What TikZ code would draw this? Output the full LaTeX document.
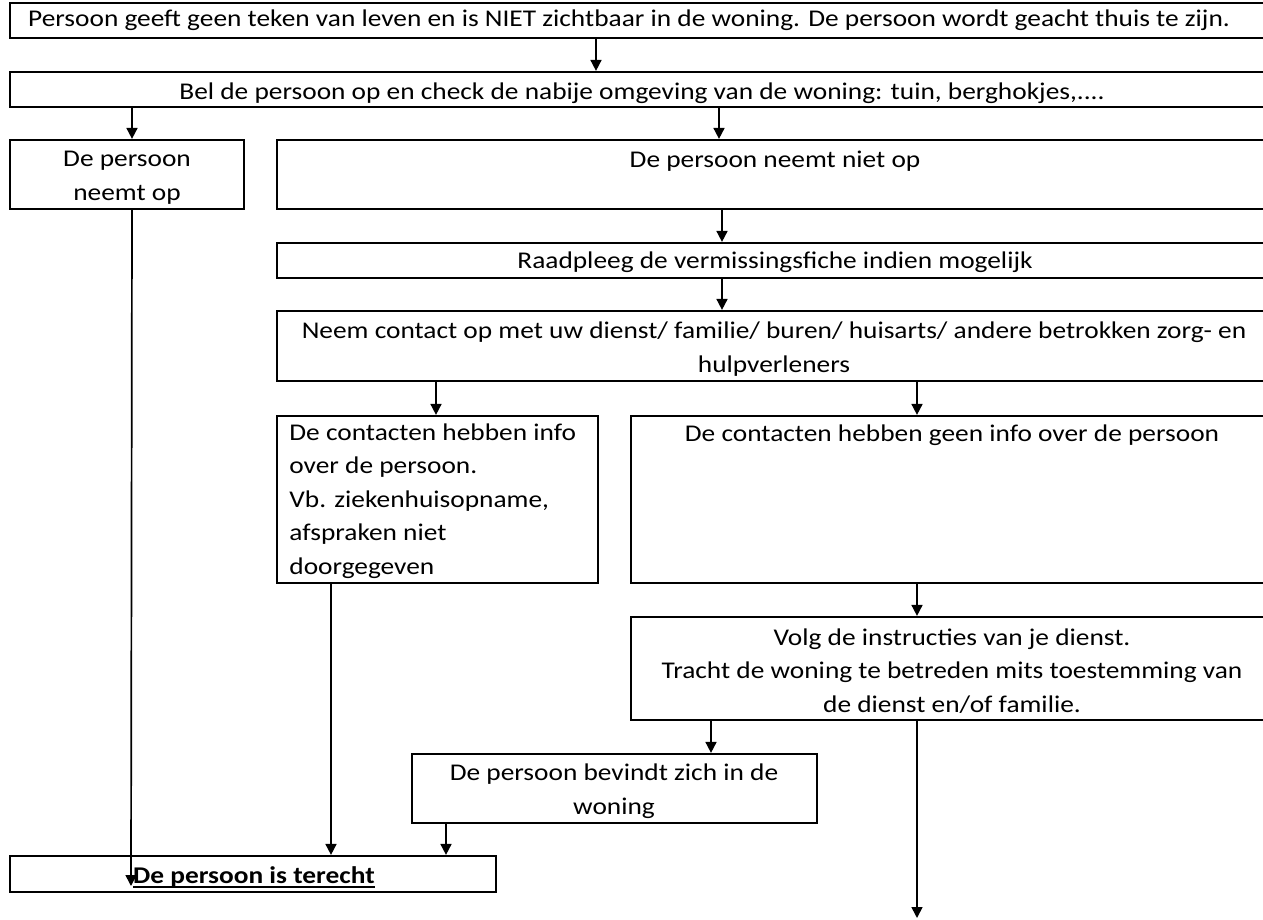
\documentclass[tikz,border=0pt]{standalone}
\usepackage{fontspec}
\setmainfont{Carlito}[FakeStretch=1.14]
\usetikzlibrary{fit,arrows.meta}
\begin{document}
\begin{tikzpicture}[x=0.5pt,y=-0.5pt,
  box/.style={draw, line width=1.1pt, inner sep=0pt, rectangle},
  txt/.style={font=\fontsize{12}{16.75}\selectfont, inner sep=0pt, align=center, anchor=base},
  arr/.style={line width=0.85pt, -{Triangle[length=5.5pt,width=5.5pt]}}]
\clip (0,0) rectangle (1263,920);
% boxes
\node[box, fit={(10,3) (1273,38)}] (b1) {};
\node[box, fit={(10,72) (1273,107)}] (b2) {};
\node[box, fit={(10,140) (244,209)}] (bop) {};
\node[box, fit={(277,140) (1273,209)}] (bniet) {};
\node[box, fit={(277,243) (1273,278)}] (braad) {};
\node[box, fit={(277,311) (1273,381)}] (bneem) {};
\node[box, fit={(277,416) (598,583)}] (binfo) {};
\node[box, fit={(631,416) (1273,583)}] (bgeen) {};
\node[box, fit={(631,617) (1273,720)}] (bvolg) {};
\node[box, fit={(412,754) (817,823)}] (bbev) {};
\node[box, fit={(10,856) (496,892)}] (bter) {};
% texts (multi-line nodes: anchor on last baseline)
\node[txt] (t1) at (629,27) {Persoon geeft geen teken van leven en is NIET zichtbaar in de woning. De persoon wordt geacht thuis te zijn.};
\node[txt] (t2) at (642,100) {Bel de persoon op en check de nabije omgeving van de woning: tuin, berghokjes,....};
\node[txt] (top) at (127,200) {De persoon\\neemt op};
\node[txt] (tniet) at (775,167) {De persoon neemt niet op};
\node[txt] (traad) at (775,268) {Raadpleeg de vermissingsfiche indien mogelijk};
\node[txt] (tneem) at (774,372) {Neem contact op met uw dienst/ familie/ buren/ huisarts/ andere betrokken zorg- en\\hulpverleners};
\node[txt, align=left, anchor=base west] (tinfo) at (289,574) {De contacten hebben info\\over de persoon.\\Vb. ziekenhuisopname,\\afspraken niet\\doorgegeven};
\node[txt] (tgeen) at (952,441) {De contacten hebben geen info over de persoon};
\node[txt] (tvolg) at (952,712) {Volg de instructies van je dienst.\\Tracht de woning te betreden mits toestemming van\\de dienst en/of familie.};
\node[txt] (tbev) at (614,814) {De persoon bevindt zich in de\\woning};
\node[txt] (tter) at (254,883) {\textbf{De persoon is terecht}};
\draw[line width=1.3pt] (tter.base west) ++(0,4) -- ([yshift=-2pt]tter.base east);
% connectors
\coordinate (eop) at (131,886);
\coordinate (evolg) at (917,918);
\draw[arr] (b1.south -| 596,0) -- (b2.north -| 596,0);
\draw[arr] (b2.south -| 132,0) -- (bop.north -| 132,0);
\draw[arr] (b2.south -| 719,0) -- (bniet.north -| 719,0);
\draw[arr] (bniet.south -| 722,0) -- (braad.north -| 722,0);
\draw[arr] (braad.south -| 722,0) -- (bneem.north -| 722,0);
\draw[arr] (bneem.south -| 436,0) -- (binfo.north -| 436,0);
\draw[arr] (bneem.south -| 917,0) -- (bgeen.north -| 917,0);
\draw[arr] (bgeen.south -| 917,0) -- (bvolg.north -| 917,0);
\draw[arr] (bvolg.south -| 711,0) -- (bbev.north -| 711,0);
\draw[arr] (bbev.south -| 446,0) -- (bter.north -| 446,0);
\draw[arr] (binfo.south -| 331,0) -- (bter.north -| 331,0);
\draw[arr] (bop.south -| 132,0) -- (eop);
\draw[arr] (bvolg.south -| 917,0) -- (evolg);
\end{tikzpicture}
\end{document}
